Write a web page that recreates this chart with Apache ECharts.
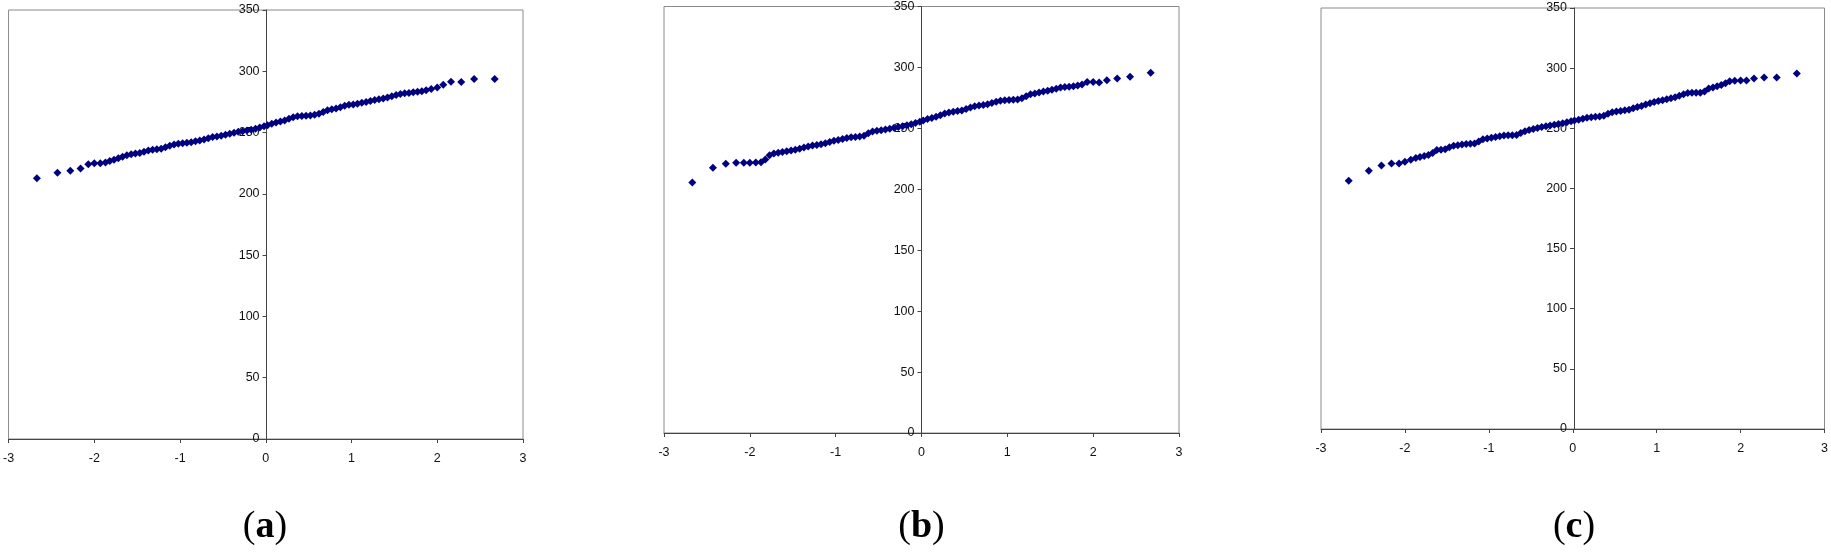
<!DOCTYPE html>
<html>
<head>
<meta charset="utf-8">
<script src="https://cdn.jsdelivr.net/npm/echarts@6/dist/echarts.min.js"></script>
<style>
html,body{margin:0;padding:0;background:#fff;}
#chart{width:1831px;height:555px;}
</style>
</head>
<body>
<div id="chart"></div>
<script>
// Theoretical normal quantiles (x positions of the plotted points)
var quantiles = [
  -2.67,-2.43,-2.28,-2.16,-2.07,-2.00,-1.93,-1.87,-1.82,-1.77,-1.72,-1.67,-1.62,-1.57,-1.52,
  -1.47,-1.42,-1.37,-1.32,-1.27,-1.22,-1.17,-1.12,-1.07,-1.02,-0.97,-0.92,-0.87,-0.82,-0.77,
  -0.72,-0.67,-0.62,-0.57,-0.52,-0.47,-0.42,-0.37,-0.32,-0.27,-0.22,-0.17,-0.12,-0.07,-0.02,
  0.02,0.07,0.12,0.17,0.22,0.27,0.32,0.37,0.42,0.47,0.52,0.57,0.62,0.67,0.72,
  0.77,0.82,0.87,0.92,0.97,1.02,1.07,1.12,1.17,1.22,1.27,1.32,1.37,1.42,1.47,
  1.52,1.57,1.62,1.67,1.72,1.77,1.82,1.87,1.93,2.00,2.07,2.16,2.28,2.43,2.67
];
// Ordered sample values, panel (a)
var valuesA = [
  212.8,217.2,218.9,220.6,224.1,224.9,224.9,225.6,226.8,227.9,229.0,230.3,231.4,232.3,233.0,
  233.4,234.3,235.4,235.9,236.3,236.9,238.0,239.2,240.2,240.9,241.3,241.7,242.2,242.9,243.5,
  244.3,245.4,246.3,246.8,247.5,248.2,249.0,249.9,250.6,251.1,251.7,252.3,253.1,254.2,255.2,
  256.0,257.2,258.3,259.0,259.8,261.2,262.6,263.3,263.6,263.8,264.0,264.6,265.3,266.8,268.2,
  269.0,269.6,270.6,271.8,272.7,273.0,273.6,274.3,275.0,275.8,276.6,277.2,277.8,278.7,279.7,
  280.7,281.5,282.0,282.3,282.8,283.4,283.8,284.6,285.5,286.8,289.0,291.4,291.3,293.8,293.8
];
// Ordered sample values, panel (b)
var valuesB = [
  205.6,217.6,220.9,221.7,221.7,221.7,222.0,222.2,224.4,228.0,229.4,230.0,230.7,231.3,231.8,
  232.5,233.2,234.2,235.2,235.9,236.4,237.0,237.7,238.9,239.8,240.5,241.3,242.0,242.6,243.0,
  243.4,244.0,246.0,247.4,248.0,248.5,249.0,249.6,250.4,251.2,251.8,252.5,253.3,254.3,255.4,
  256.4,257.6,258.6,259.6,260.8,262.2,263.1,263.7,264.2,264.7,265.8,267.1,268.1,268.7,269.2,
  269.7,270.8,271.9,272.7,273.1,273.3,273.4,273.6,274.8,276.4,277.9,278.7,279.4,280.2,280.9,
  281.7,282.6,283.6,284.0,284.2,284.5,285.2,286.0,288.0,288.0,287.6,289.4,291.0,292.4,295.7
];
// Ordered sample values, panel (c)
var valuesC = [
  206.3,214.6,219.1,220.7,220.7,222.2,223.8,225.2,226.1,227.0,227.8,229.5,231.9,232.2,232.6,
  234.2,235.5,236.0,236.5,236.9,237.1,237.4,239.0,240.8,241.5,242.2,242.8,243.4,243.9,244.3,
  244.3,244.4,246.0,247.6,248.6,249.4,250.2,251.0,251.7,252.4,253.0,253.6,254.2,255.0,255.8,
  256.5,257.2,258.0,258.7,259.1,259.5,259.9,260.5,262.0,263.4,263.9,264.4,264.9,265.5,266.6,
  267.7,268.6,269.8,270.9,271.9,272.6,273.4,274.1,274.9,275.7,277.1,278.3,279.3,279.5,279.5,
  279.5,280.5,283.1,284.0,285.0,285.9,287.5,289.0,289.5,289.8,289.8,291.4,292.3,292.3,295.6
];
var panelLetters = ['a','b','c'];
var xTicks = {min:-3, max:3, interval:1};
var yTicks = {min:0, max:350, interval:50};

var grids = [
  {left:7,   top:10, width:516, height:429},
  {left:664, top:6,  width:515, height:427},
  {left:1321,top:8,  width:506, height:421}
];
var seriesValues = [valuesA, valuesB, valuesC];

var labelFont = {fontFamily:'Liberation Sans, Arial, sans-serif', fontSize:12.5, color:'#111'};

var option = {
  backgroundColor:'#fff',
  animation:false,
  grid: grids.map(function(g){
    return {left:g.left, top:g.top, width:g.width, height:g.height, show:true,
            borderColor:'#8a8a8a', borderWidth:1, backgroundColor:'transparent', containLabel:false};
  }),
  xAxis: grids.map(function(g,i){
    return {type:'value', gridIndex:i, min:xTicks.min, max:xTicks.max, interval:xTicks.interval,
      axisLine:{show:true, onZero:false, lineStyle:{color:'#444', width:1}},
      axisTick:{show:true, inside:false, length:4, lineStyle:{color:'#444'}},
      axisLabel:Object.assign({margin:13}, labelFont),
      splitLine:{show:false}};
  }),
  yAxis: grids.map(function(g,i){
    // place the y axis at x = 0 (centre of the symmetric x range)
    return {type:'value', gridIndex:i, position:'left', offset:-g.width/2,
      min:yTicks.min, max:yTicks.max, interval:yTicks.interval,
      axisLine:{show:true, onZero:false, lineStyle:{color:'#444', width:1}},
      axisTick:{show:true, inside:false, length:4, lineStyle:{color:'#444'}},
      axisLabel:Object.assign({margin:7}, labelFont),
      splitLine:{show:false}};
  }),
  series: seriesValues.map(function(vals,i){
    return {type:'scatter', xAxisIndex:i, yAxisIndex:i, symbol:'diamond', symbolSize:8,
      itemStyle:{color:'#000080', opacity:1},
      data: quantiles.map(function(q,k){ return [q, vals[k]]; })};
  }),
  graphic: grids.map(function(g,i){
    var cx = g.left + g.width/2;
    return {type:'text', x:cx, y:527,
      style:{text:'{p|(}{b|'+panelLetters[i]+'}{p|)}', align:'center', verticalAlign:'middle',
        rich:{
          p:{fontFamily:'Liberation Serif, Times New Roman, serif', fontSize:38, fontWeight:'normal', fill:'#000'},
          b:{fontFamily:'Liberation Serif, Times New Roman, serif', fontSize:38, fontWeight:'bold', fill:'#000'}
        }}};
  })
};
var chart = echarts.init(document.getElementById('chart'));
chart.setOption(option);
</script>
</body>
</html>
